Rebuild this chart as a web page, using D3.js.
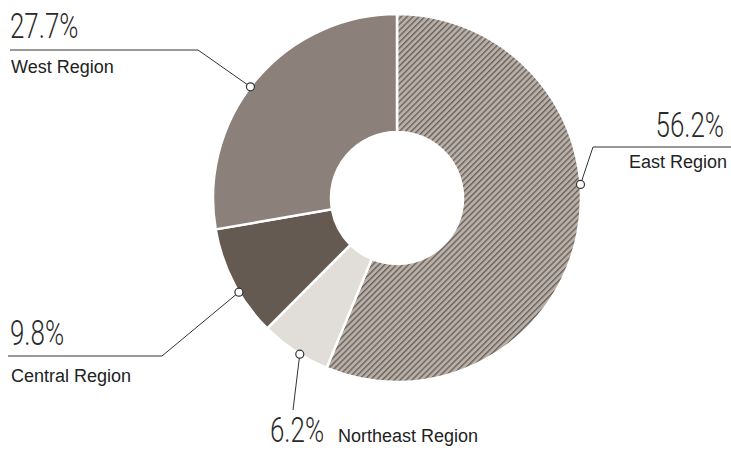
<!DOCTYPE html>
<html>
<head>
<meta charset="utf-8">
<script src="https://cdn.jsdelivr.net/npm/d3@7"></script>
<style>
  html, body { margin: 0; padding: 0; background: #fff; }
  svg { display: block; }
  .pct { font-family: Roboto, "Liberation Sans", sans-serif; font-weight: 300; fill: #2a2a2a; }
  .name { font-family: "Liberation Sans", Arial, sans-serif; font-size: 18px; fill: #222; }
</style>
</head>
<body>
<svg id="chart" width="731" height="451"></svg>
<script>
// Regional share, clockwise from 12 o'clock
const regions = ["East Region", "Northeast Region", "Central Region", "West Region"];
const shares = [56.2, 6.2, 9.8, 27.7];
const shareLabels = ["56.2%", "6.2%", "9.8%", "27.7%"];

const width = 731, height = 451;
const cx = 397, cy = 198, outerR = 184, innerR = 66;

const svg = d3.select("#chart");

// diagonal hatch for the largest slice
const defs = svg.append("defs");
const pat = defs.append("pattern")
  .attr("id", "hatch")
  .attr("patternUnits", "userSpaceOnUse")
  .attr("width", 4.2).attr("height", 4.2)
  .attr("patternTransform", "rotate(45)");
pat.append("rect").attr("width", 4.2).attr("height", 4.2).attr("fill", "#b8afa8");
pat.append("line").attr("x1", 0.7).attr("y1", 0).attr("x2", 0.7).attr("y2", 4.2)
  .attr("stroke", "#655c56").attr("stroke-width", 1.3);

const fills = d3.scaleOrdinal()
  .domain(regions)
  .range(["url(#hatch)", "#e1ded9", "#645a52", "#8b807a"]);

const pie = d3.pie().sort(null).value(d => d.v);
const data = regions.map((r, i) => ({ r, v: shares[i], label: shareLabels[i] }));
const arcs = pie(data);

const arc = d3.arc().innerRadius(innerR).outerRadius(outerR);

const g = svg.append("g").attr("transform", `translate(${cx},${cy})`);
g.selectAll("path.slice")
  .data(arcs)
  .join("path")
  .attr("class", "slice")
  .attr("d", arc)
  .attr("fill", d => fills(d.data.r))
  .attr("stroke", "#fff")
  .attr("stroke-width", 2.5);

// callout layout: anchor nudge (deg) from slice middle, elbow, label end
const callouts = {
  "East Region":      { nudge: -15.5, elbow: [593, 147], end: [731, 147], side: "right", pctY: 137, nameY: 168, x: 724 },
  "Northeast Region": { nudge: -1.8,  elbow: [293, 410], end: [293, 410], side: "bottom", pctY: 442, nameY: 442, x: 270 },
  "Central Region":   { nudge: -3.3,  elbow: [162, 356], end: [8, 356],   side: "left", pctY: 345, nameY: 382, x: 10 },
  "West Region":      { nudge: -2.9,  elbow: [198, 50],  end: [10, 50],   side: "left", pctY: 38,  nameY: 73,  x: 10 }
};

const lab = svg.append("g");
arcs.forEach(d => {
  const c = callouts[d.data.r];
  const a = (d.startAngle + d.endAngle) / 2 + c.nudge * Math.PI / 180;
  const px = cx + outerR * Math.sin(a);
  const py = cy - outerR * Math.cos(a);

  lab.append("polyline")
    .attr("points", [[px, py], c.elbow, c.end].map(p => p.join(",")).join(" "))
    .attr("fill", "none").attr("stroke", "#333").attr("stroke-width", 1);

  lab.append("circle")
    .attr("cx", px).attr("cy", py).attr("r", 4)
    .attr("fill", "#fff").attr("stroke", "#333").attr("stroke-width", 1.2);

  const anchor = c.side === "right" ? "end" : "start";
  lab.append("text")
    .attr("class", "pct")
    .attr("text-anchor", anchor)
    .attr("transform", `translate(${c.x},${c.pctY}) scale(0.72,1)`)
    .attr("font-size", 36)
    .text(d.data.label);

  if (c.side === "bottom") {
    lab.append("text").attr("class", "name")
      .attr("x", 338).attr("y", c.nameY).text(d.data.r);
  } else {
    lab.append("text").attr("class", "name")
      .attr("text-anchor", anchor)
      .attr("x", c.side === "right" ? 727 : c.x + 1)
      .attr("y", c.nameY).text(d.data.r);
  }
});
</script>
</body>
</html>
